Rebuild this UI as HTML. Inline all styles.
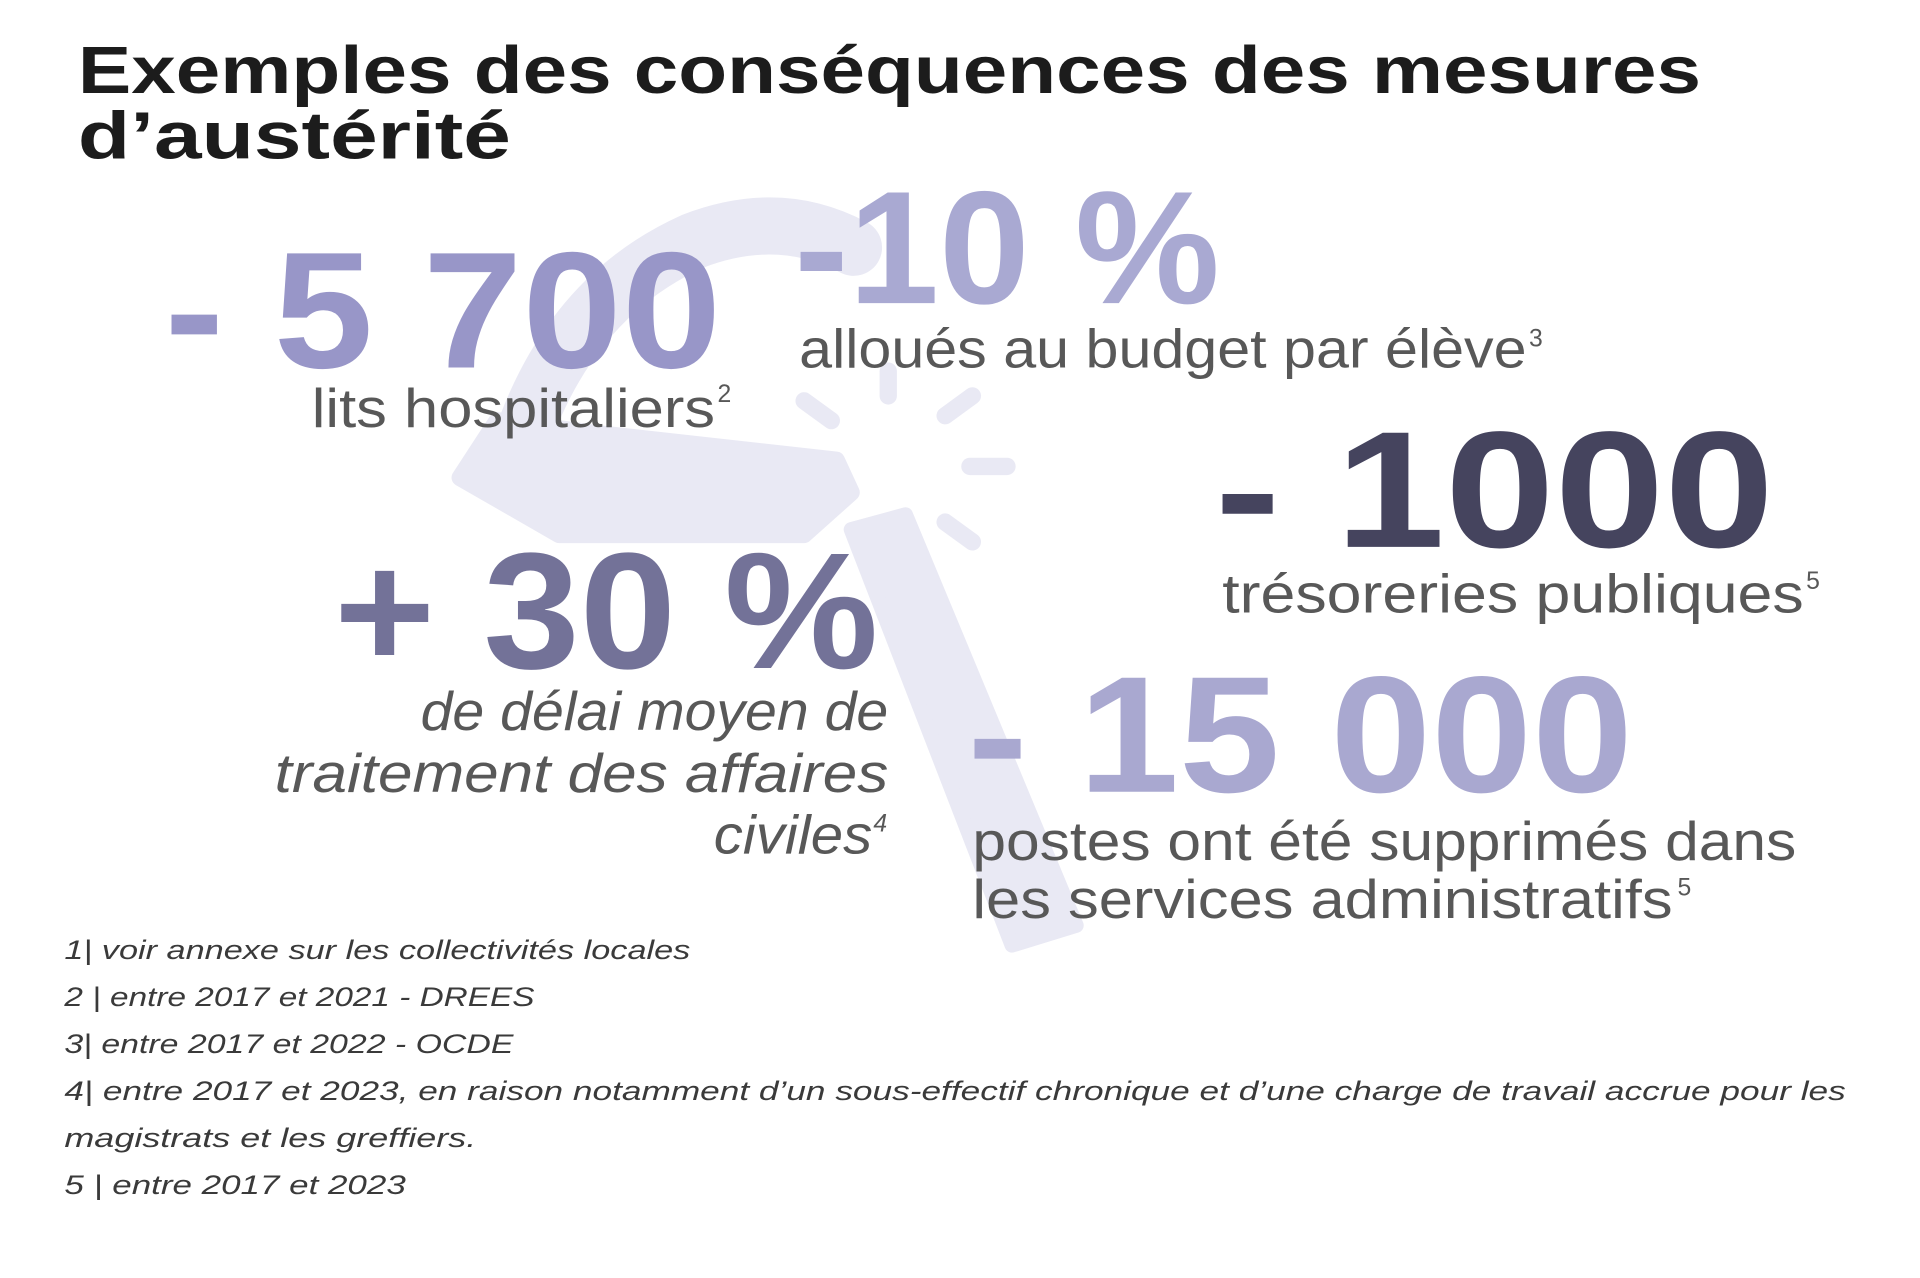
<!DOCTYPE html>
<html><head><meta charset="utf-8"><style>
html,body{margin:0;padding:0;background:#fff;}
svg{display:block;}
text{font-family:"Liberation Sans",sans-serif;}
.b{font-weight:bold;}
.t{fill:#585858;font-size:44px;}
.f{fill:#3a3a3a;font-size:22px;font-style:italic;}
</style></head><body>
<svg width="1920" height="1278" viewBox="0 0 1552 1033" xmlns="http://www.w3.org/2000/svg">
<rect width="1552" height="1033" fill="#fff"/>
<!-- hammer background -->
<g fill="#e9e9f4" stroke-linecap="round">
<path d="M372 386 L402 340 L478 350 L676 372 L688 398 L650 432 L452 432 Z" stroke="#e9e9f4" stroke-width="14" stroke-linejoin="round"/>
<path d="M420 360 Q460 240 560 195 Q630 168 690 200" fill="none" stroke="#e9e9f4" stroke-width="46"/>
<path d="M688 428 L732 416 L870 748 L818 764 Z" stroke="#e9e9f4" stroke-width="12" stroke-linejoin="round"/>
<g stroke="#e9e9f4" stroke-width="14" fill="none">
<line x1="650" y1="324" x2="672" y2="340"/>
<line x1="718" y1="300" x2="718" y2="320"/>
<line x1="764" y1="336" x2="786" y2="320"/>
<line x1="784" y1="377" x2="814" y2="377"/>
<line x1="764" y1="422" x2="786" y2="438"/>
</g>
</g>
<!-- title -->
<text class="b" x="63" y="75" font-size="54" fill="#1c1c1c" textLength="1312" lengthAdjust="spacingAndGlyphs">Exemples des conséquences des mesures</text>
<text class="b" x="63" y="128" font-size="54" fill="#1c1c1c" textLength="350" lengthAdjust="spacingAndGlyphs">d’austérité</text>
<!-- -5700 -->
<text class="b" x="133" y="297" font-size="134" fill="#9896c8" textLength="450" lengthAdjust="spacingAndGlyphs">- 5 700</text>
<text class="t" x="252" y="345" textLength="326" lengthAdjust="spacingAndGlyphs">lits hospitaliers</text>
<text x="580" y="325" font-size="20" fill="#585858">2</text>
<!-- -10% -->
<text class="b" x="642" y="245" font-size="130" fill="#a9a9d2" textLength="344" lengthAdjust="spacingAndGlyphs">-10 %</text>
<text class="t" x="646" y="297" textLength="588" lengthAdjust="spacingAndGlyphs">alloués au budget par élève</text>
<text x="1236" y="280" font-size="20" fill="#585858">3</text>
<!-- -1000 -->
<text class="b" x="982" y="442" font-size="134" fill="#45445e" textLength="452" lengthAdjust="spacingAndGlyphs">- 1000</text>
<text class="t" x="988" y="495" textLength="470" lengthAdjust="spacingAndGlyphs">trésoreries publiques</text>
<text x="1460" y="476" font-size="20" fill="#585858">5</text>
<!-- +30% -->
<text class="b" x="270" y="540" font-size="134" fill="#737298" textLength="440" lengthAdjust="spacingAndGlyphs">+ 30 %</text>
<text class="t" x="340" y="590" font-style="italic" textLength="378" lengthAdjust="spacingAndGlyphs">de délai moyen de</text>
<text class="t" x="222" y="640" font-style="italic" textLength="496" lengthAdjust="spacingAndGlyphs">traitement des affaires</text>
<text class="t" x="577" y="690" font-style="italic" textLength="128" lengthAdjust="spacingAndGlyphs">civiles</text>
<text x="706" y="672" font-size="20" fill="#585858" font-style="italic">4</text>
<!-- -15000 -->
<text class="b" x="782" y="640" font-size="134" fill="#a9a8d0" textLength="538" lengthAdjust="spacingAndGlyphs">- 15 000</text>
<text class="t" x="786" y="695" textLength="666" lengthAdjust="spacingAndGlyphs">postes ont été supprimés dans</text>
<text class="t" x="786" y="742" textLength="566" lengthAdjust="spacingAndGlyphs">les services administratifs</text>
<text x="1356" y="724" font-size="20" fill="#585858">5</text>
<!-- footnotes -->
<text class="f" x="52" y="775" textLength="506" lengthAdjust="spacingAndGlyphs">1| voir annexe sur les collectivités locales</text>
<text class="f" x="52" y="813" textLength="380" lengthAdjust="spacingAndGlyphs">2 | entre 2017 et 2021 - DREES</text>
<text class="f" x="52" y="851" textLength="363" lengthAdjust="spacingAndGlyphs">3| entre 2017 et 2022 - OCDE</text>
<text class="f" x="52" y="889" textLength="1440" lengthAdjust="spacingAndGlyphs">4| entre 2017 et 2023, en raison notamment d’un sous-effectif chronique et d’une charge de travail accrue pour les</text>
<text class="f" x="52" y="927" textLength="333" lengthAdjust="spacingAndGlyphs">magistrats et les greffiers.</text>
<text class="f" x="52" y="965" textLength="276" lengthAdjust="spacingAndGlyphs">5 | entre 2017 et 2023</text>
</svg>
</body></html>
